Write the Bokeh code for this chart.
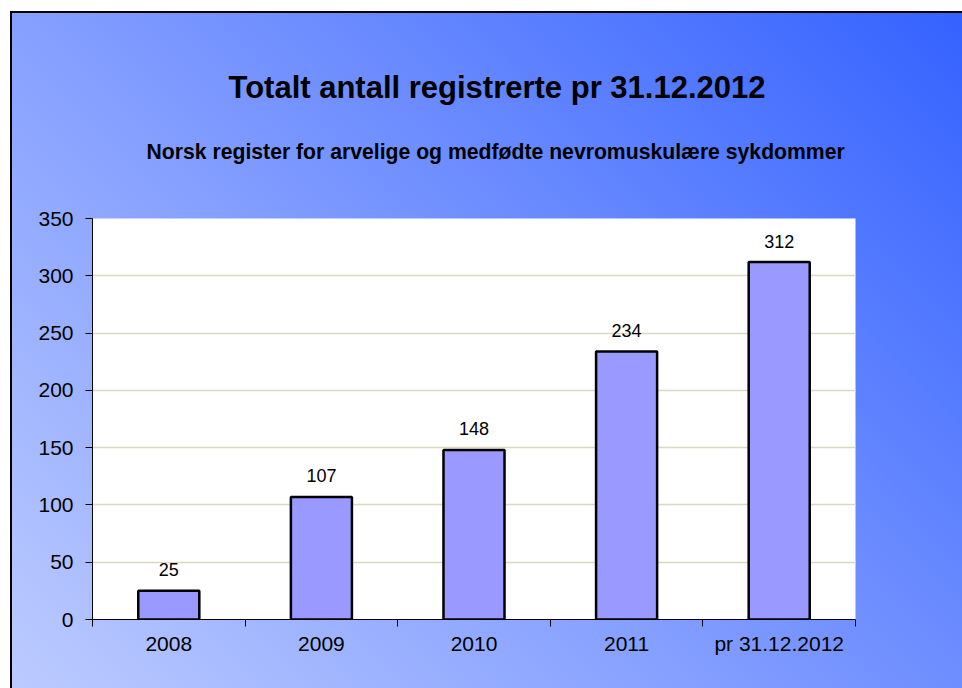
from bokeh.plotting import figure
from bokeh.models import ColumnDataSource, Range1d, FixedTicker, Title
from bokeh.core.properties import value
from bokeh.embed import file_html
from bokeh.resources import INLINE

# ---- data ----
categories = ["2008", "2009", "2010", "2011", "pr 31.12.2012"]
registered = [25, 107, 148, 234, 312]
y_ticks = [0, 50, 100, 150, 200, 250, 300, 350]

title_text = "Totalt antall registrerte pr 31.12.2012"
subtitle_text = "Norsk register for arvelige og medfødte nevromuskulære sykdommer"

FONT = "Liberation Sans"

xpos = [i + 0.5 for i in range(len(categories))]
src = ColumnDataSource(dict(x=xpos, y=registered, label=[str(v) for v in registered]))

p = figure(
    frame_width=763, frame_height=401,
    min_border_left=82, min_border_right=107, min_border_top=207, min_border_bottom=69,
    x_range=Range1d(0, len(categories)), y_range=Range1d(y_ticks[0], y_ticks[-1]),
    output_backend="svg", toolbar_location=None, title=None,
)
p.styles = {
    "background": "linear-gradient(45deg, #BCCBFF 0%, #7A97FF 50%, #3462FF 100%)",
    "box-shadow": "inset 2px 2px 0 0 #000000",
    "margin": "11px 0 0 10px",
}
p.border_fill_color = None
p.background_fill_color = "white"
p.outline_line_color = None

# bars
p.vbar(x="x", top="y", width=0.4, bottom=0, source=src,
       fill_color="#9999FF", line_color="black", line_width=2.5)

# value labels
p.text(x="x", y="y", text="label", source=src, text_align="center",
       text_baseline="alphabetic", y_offset=-21,
       text_font=value(FONT), text_font_size="18px", text_color="black")

# x axis
xa = p.xaxis[0]
xa.ticker = FixedTicker(ticks=xpos, minor_ticks=list(range(len(categories) + 1)))
xa.major_label_overrides = {x: c for x, c in zip(xpos, categories)}
xa.major_tick_line_color = None
xa.major_tick_out = 7
xa.major_tick_in = 0
xa.minor_tick_line_color = "black"
xa.minor_tick_out = 7
xa.minor_tick_in = 0
xa.major_label_standoff = 5
xa.axis_line_color = "black"
xa.major_label_text_font = FONT
xa.major_label_text_font_size = "21px"
xa.major_label_text_color = "black"

# y axis
ya = p.yaxis[0]
ya.ticker = FixedTicker(ticks=y_ticks, minor_ticks=[])
ya.major_tick_out = 7
ya.major_tick_in = 0
ya.major_tick_line_color = "black"
ya.axis_line_color = "black"
ya.major_label_standoff = 12
ya.major_label_text_font = FONT
ya.major_label_text_font_size = "21px"
ya.major_label_text_color = "black"

p.xgrid.visible = False
p.ygrid.ticker = FixedTicker(ticks=y_ticks[1:-1], minor_ticks=[])
p.ygrid.grid_line_color = "#DCD8C0"
p.ygrid.grid_line_width = 1.5

# titles: spacer (closest to frame), subtitle, main title
p.add_layout(Title(text=" ", text_font_size="10px", standoff=27, align="left"), "above")
p.add_layout(Title(text=subtitle_text, align="left", offset=54, standoff=31,
                   vertical_align="bottom", text_font=FONT, text_font_style="bold",
                   text_font_size="21.2px", text_color="black"), "above")
p.add_layout(Title(text=title_text, align="left", offset=136, standoff=35,
                   vertical_align="bottom", text_font=FONT, text_font_style="bold",
                   text_font_size="31px", text_color="black"), "above")

open("out.html", "w").write(file_html(p, INLINE))
